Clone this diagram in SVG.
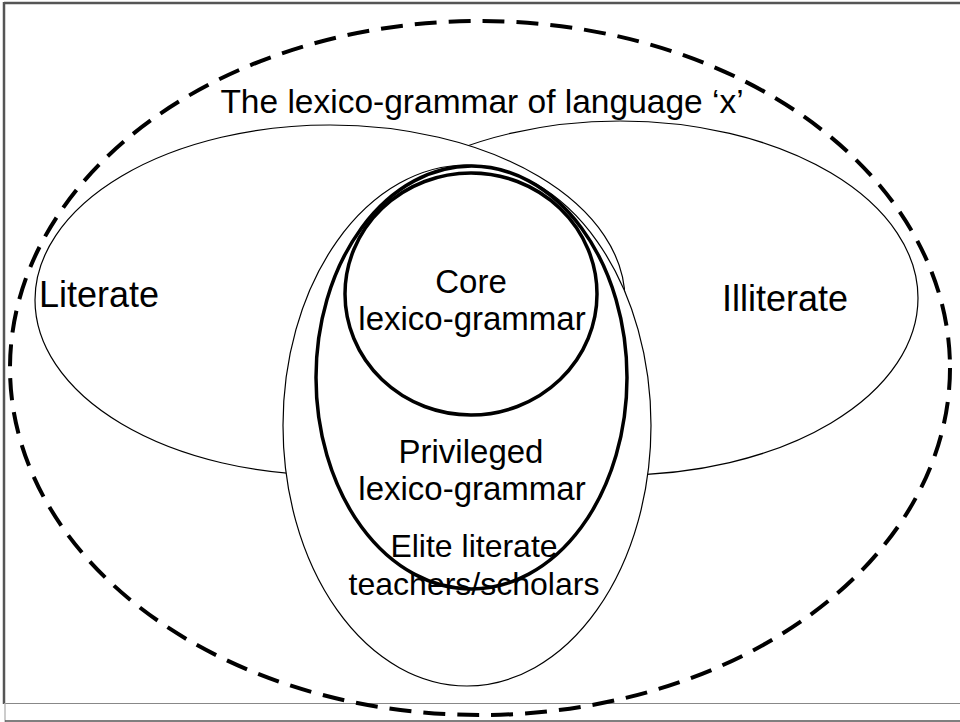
<svg xmlns="http://www.w3.org/2000/svg" width="960" height="722" viewBox="0 0 960 722">
<style>
.frame{stroke:#555;fill:none}
.thin{fill:#fff;stroke:#000;stroke-width:1.2}
.thick{fill:none;stroke:#000;stroke-width:3.5}
.dash{fill:none;stroke:#000;stroke-width:4;stroke-dasharray:22 12}
text{font-family:"Liberation Sans",Arial,sans-serif;font-size:33px;fill:#000;text-anchor:middle}
.side{font-size:36px}
</style>
<rect width="960" height="722" fill="#fff"/>
<g id="frame">
<line class="frame" x1="4" y1="3" x2="960" y2="3" stroke-width="2.5"/>
<line class="frame" x1="4" y1="2" x2="4" y2="704" stroke-width="2.5"/>
<line x1="4" y1="703.5" x2="960" y2="703.5" stroke="#888" stroke-width="1.2"/>
<line x1="5" y1="703" x2="5" y2="722" stroke="#aaa" stroke-width="1.2"/>
<line x1="5" y1="721" x2="960" y2="721" stroke="#555" stroke-width="1.5"/>
</g>
<g id="language">
<ellipse class="dash" cx="480" cy="368" rx="470" ry="347"/>
<text x="482" y="113" style="font-size:33.5px">The lexico-grammar of language ‘x’</text>
</g>
<g id="illiterate">
<ellipse class="thin" cx="620" cy="298" rx="298" ry="177"/>
<text class="side" x="785" y="311">Illiterate</text>
</g>
<g id="literate">
<ellipse class="thin" cx="330" cy="300" rx="295" ry="175"/>
<text class="side" x="99" y="307">Literate</text>
</g>
<g id="elite">
<ellipse class="thin" cx="467" cy="425.5" rx="184" ry="260.5"/>
</g>
<g id="privileged">
<ellipse class="thick" cx="471.5" cy="377.5" rx="155.5" ry="211.5"/>
<text x="471" y="463">Privileged</text>
<text x="472" y="500">lexico-grammar</text>
</g>
<g id="core">
<ellipse class="thick" cx="471" cy="294" rx="126" ry="121"/>
<text x="471" y="293">Core</text>
<text x="472" y="330">lexico-grammar</text>
</g>
<g id="elite-label">
<text x="474" y="557" style="font-size:32px">Elite literate</text>
<text x="474" y="595" style="font-size:32px">teachers/scholars</text>
</g>
<g id="connectors"/>
</svg>
